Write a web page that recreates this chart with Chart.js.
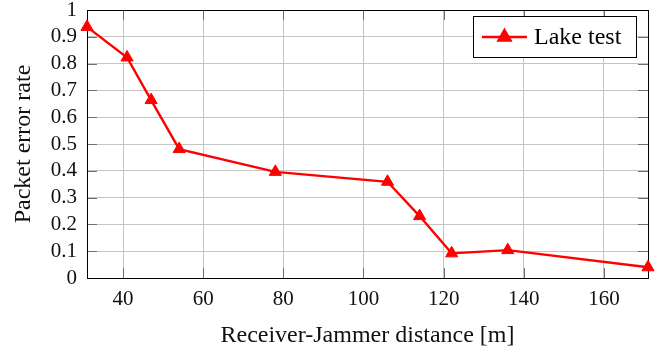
<!DOCTYPE html>
<html>
<head>
<meta charset="utf-8">
<script src="https://cdn.jsdelivr.net/npm/chart.js@4/dist/chart.umd.min.js"></script>
<style>
    html, body { margin: 0; padding: 0; background: #fff; }
    #wrap { width: 672px; height: 348px; }
</style>
</head>
<body>
<div id="wrap"><canvas id="perChart"></canvas></div>
<script>
// Data
const distances = [31, 41, 47, 54, 78, 106, 114, 122, 136, 171];
const errorRate = [0.937, 0.823, 0.664, 0.481, 0.396, 0.359, 0.231, 0.092, 0.104, 0.040];
const xTicks = [40, 60, 80, 100, 120, 140, 160];
const yTicks = [0, 0.1, 0.2, 0.3, 0.4, 0.5, 0.6, 0.7, 0.8, 0.9, 1];
const yTickLabels = ['0', '0.1', '0.2', '0.3', '0.4', '0.5', '0.6', '0.7', '0.8', '0.9', '1'];

const SERIF = '"Liberation Serif", "DejaVu Serif", serif';

// axis box + inward tick marks (pgfplots style)
const frame = {
    id: 'frame',
    beforeDatasetsDraw(chart) {
        const {ctx, chartArea: a, scales} = chart;
        ctx.save();
        ctx.strokeStyle = '#6e6e6e';
        ctx.lineWidth = 1;
        ctx.beginPath();
        scales.x.ticks.forEach(t => {
            const px = Math.round(scales.x.getPixelForValue(t.value)) + 0.5;
            ctx.moveTo(px, a.bottom); ctx.lineTo(px, a.bottom - 10);
            ctx.moveTo(px, a.top); ctx.lineTo(px, a.top + 10);
        });
        scales.y.ticks.forEach(t => {
            const py = Math.round(scales.y.getPixelForValue(t.value)) + 0.5;
            ctx.moveTo(a.left, py); ctx.lineTo(a.left + 10, py);
            ctx.moveTo(a.right, py); ctx.lineTo(a.right - 10, py);
        });
        ctx.stroke();
        ctx.strokeStyle = '#000';
        ctx.strokeRect(Math.round(a.left) + 0.5, Math.round(a.top) + 0.5,
            Math.round(a.right - a.left), Math.round(a.bottom - a.top));
        ctx.restore();
    }
};

// legend box inside the plot, top right
const insideLegend = {
    id: 'insideLegend',
    afterDatasetsDraw(chart) {
        const {ctx, chartArea: a} = chart;
        const ds = chart.data.datasets[0];
        const x1 = a.right - 175, y1 = a.top + 6, w = 163, h = 41;
        ctx.save();
        ctx.fillStyle = '#fff';
        ctx.fillRect(x1, y1, w, h);
        ctx.strokeStyle = '#000';
        ctx.lineWidth = 1;
        ctx.strokeRect(Math.round(x1) + 0.5, Math.round(y1) + 0.5, w, h);
        const cy = y1 + 21;
        ctx.strokeStyle = ds.borderColor;
        ctx.lineWidth = ds.borderWidth;
        ctx.beginPath();
        ctx.moveTo(x1 + 9, cy); ctx.lineTo(x1 + 54, cy);
        ctx.stroke();
        Chart.helpers.drawPoint(ctx, {
            pointStyle: 'triangle', radius: ds.pointRadius, borderWidth: 1
        }, x1 + 31.5, cy);
        ctx.fillStyle = ds.pointBackgroundColor;
        ctx.fill();
        ctx.fillStyle = '#000';
        ctx.font = '24px ' + SERIF;
        ctx.textBaseline = 'middle';
        ctx.fillText(ds.label, x1 + 61, cy + 1);
        ctx.restore();
    }
};

const initializeChart = () => {
    const ctx = document.getElementById('perChart');
    return new Chart(ctx.getContext('2d'), {
        type: 'line',
        data: {
            datasets: [{
                label: 'Lake test',
                data: distances.map((d, i) => ({x: d, y: errorRate[i]})),
                borderColor: '#ff0000',
                backgroundColor: '#ff0000',
                borderWidth: 2.4,
                pointStyle: 'triangle',
                pointRadius: 7,
                pointBackgroundColor: '#ff0000',
                pointBorderColor: '#ff0000',
                pointBorderWidth: 1,
                tension: 0,
                clip: false
            }]
        },
        options: {
            responsive: true,
            maintainAspectRatio: false,
            animation: false,
            layout: { padding: { left: 0, right: 24, top: 10, bottom: 0 } },
            plugins: {
                legend: { display: false },
                tooltip: { enabled: false }
            },
            scales: {
                x: {
                    type: 'linear',
                    min: 31,
                    max: 171,
                    afterBuildTicks: s => { s.ticks = xTicks.map(v => ({value: v})); },
                    afterFit: s => {
                        s.height = 70;
                        s.paddingLeft = 0;
                        s.paddingRight = 0;
                    },
                    border: { display: false },
                    grid: { color: '#c4c4c4', lineWidth: 1, drawTicks: false },
                    ticks: {
                        padding: 9,
                        color: '#111',
                        autoSkip: false,
                        font: { family: SERIF, size: 21 },
                        maxRotation: 0
                    },
                    title: {
                        display: true,
                        text: 'Receiver-Jammer distance [m]',
                        color: '#111',
                        font: { family: SERIF, size: 24, lineHeight: 1 },
                        padding: { top: 0, bottom: 0 }
                    }
                },
                y: {
                    min: 0,
                    max: 1,
                    afterBuildTicks: s => { s.ticks = yTicks.map(v => ({value: v})); },
                    afterFit: s => {
                        s.width = 87;
                        s.paddingTop = 0;
                        s.paddingBottom = 0;
                    },
                    border: { display: false },
                    grid: { color: '#c4c4c4', lineWidth: 1, drawTicks: false },
                    ticks: {
                        padding: 10,
                        color: '#111',
                        autoSkip: false,
                        font: { family: SERIF, size: 21 },
                        callback: (v, i) => yTickLabels[i]
                    },
                    title: {
                        display: true,
                        text: 'Packet error rate',
                        color: '#111',
                        font: { family: SERIF, size: 24, lineHeight: 1 },
                        padding: { top: 12, bottom: 0 }
                    }
                }
            }
        },
        plugins: [frame, insideLegend]
    });
};

let perChart;
document.addEventListener('DOMContentLoaded', () => {
    perChart = initializeChart();
});
</script>
</body>
</html>
